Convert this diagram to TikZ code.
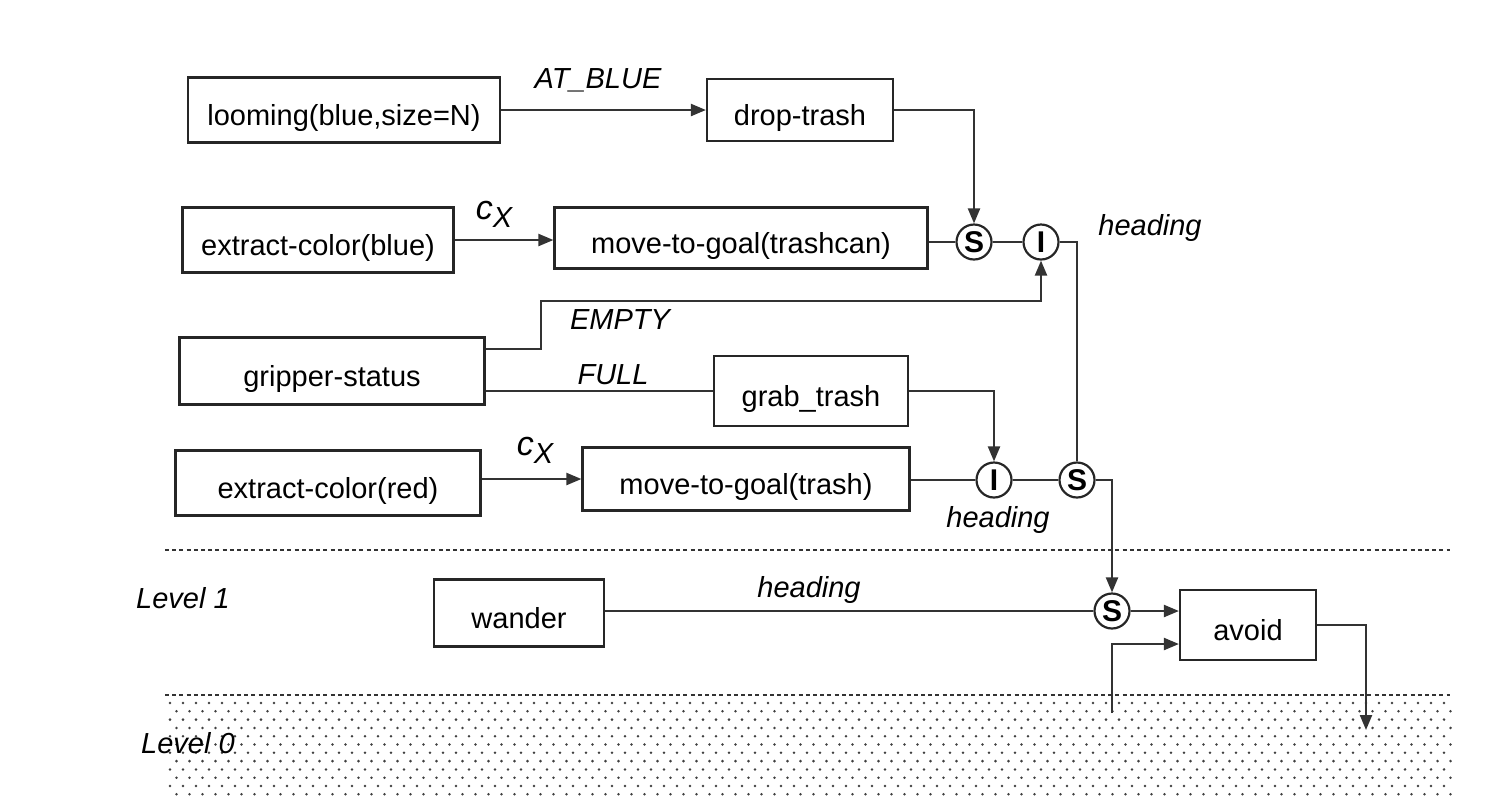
\documentclass[tikz,border=0pt]{standalone}
\usepackage{fontspec}
\setmainfont{Liberation Sans}
\usetikzlibrary{arrows.meta,calc}
\begin{document}
\begin{tikzpicture}[x=0.5pt,y=-0.5pt,
  every node/.style={font=\fontsize{14.5}{17}\selectfont},
  box/.style={draw=black!85,line width=1.1pt,rectangle,inner sep=0pt,text height=15.5pt,text depth=0pt},
  sup/.style={draw=black!85,line width=1.1pt,circle,minimum size=17.5pt,inner sep=0pt,font=\fontsize{15}{17}\selectfont\bfseries},
  wire/.style={draw=black!80,line width=1.1pt},
  arr/.style={wire,-{Triangle[length=7.5pt,width=6pt]}},
  lbl/.style={font=\fontsize{14.5}{17}\selectfont\itshape},
  lvl/.style={draw=black!80,line width=0.9pt,dash pattern=on 2pt off 1.6pt}]
\useasboundingbox (0,0) rectangle (1488,800);
% dotted level 0 area
\foreach \r in {0,...,12}{
  \pgfmathsetmacro{\yy}{703+\r*8.3}
  \pgfmathsetmacro{\off}{mod(\r,2)*6.5}
  \foreach \c in {0,...,98}{
    \fill[black!75] ({170+\off+\c*13},\yy) circle (0.7pt);
  }
}
\draw[lvl] (165,550) -- (1450,550);
\draw[lvl] (165,695) -- (1450,695);
% boxes
\node[box,minimum width=156pt,minimum height=32.5pt] (loom) at (344,110) {looming(blue,size=N)};
\node[box,minimum width=93pt,minimum height=31pt] (drop) at (800,110) {drop-trash};
\node[box,minimum width=135.5pt,minimum height=32.5pt] (ecb) at (318,240) {extract-color(blue)};
\node[box,minimum width=186.5pt,minimum height=30.5pt] (mtgc) at (741,238) {move-to-goal(trashcan)};
\node[box,minimum width=152.5pt,minimum height=33.5pt] (grip) at (332,371) {gripper-status};
\node[box,minimum width=97pt,minimum height=35pt] (grab) at (811,391) {grab\_trash};
\node[box,minimum width=152.5pt,minimum height=32.5pt] (ecr) at (328,483) {extract-color(red)};
\node[box,minimum width=163.5pt,minimum height=31.5pt] (mtgt) at (746,479) {move-to-goal(trash)};
\node[box,minimum width=85pt,minimum height=33.5pt] (wander) at (519,613) {wander};
\node[box,minimum width=68pt,minimum height=35pt] (avoid) at (1248,625) {avoid};
% suppressor / inhibitor nodes
\node[sup] (s1) at (974,242) {S};
\node[sup] (i1) at (1041,242) {I};
\node[sup] (i2) at (994,480) {I};
\node[sup] (s2) at (1077,480) {S};
\node[sup] (s3) at (1112,611) {S};
% bend coordinates
\coordinate (e1) at (541,349);
\coordinate (e2) at (541,301);
\coordinate (a0) at (1112,713);
\coordinate (out) at (1366,730);
% connectors
\draw[arr] (loom.east |- drop.west) -- (drop.west);
\draw[arr] (drop.east) -| (s1.north);
\draw[arr] (ecb.east) -- (ecb.east -| mtgc.west);
\draw[wire] (mtgc.east |- s1.west) -- (s1.west);
\draw[wire] (s1.east) -- (i1.west);
\draw[wire] (i1.east) -| (s2.north);
\draw[arr] (grip.east |- e1) -- (e1) -- (e2) -| (i1.south);
\draw[wire] (grab.west -| grip.east) -- (grab.west);
\draw[arr] (grab.east) -| (i2.north);
\draw[arr] (mtgt.west -| ecr.east) -- (mtgt.west);
\draw[wire] (mtgt.east |- i2.west) -- (i2.west);
\draw[wire] (i2.east) -- (s2.west);
\draw[arr] (s2.east) -| (s3.north);
\draw[wire] (s3.west -| wander.east) -- (s3.west);
\draw[arr] (s3.east) -- (s3.east -| avoid.west);
\draw[arr] (a0) |- ($(avoid.west)+(0,19)$);
\draw[arr] (avoid.east) -| (out);
% labels
\node[lbl] (lab1) at (598,80) {AT\_BLUE};
\node[lbl] (lab2) at (494,214) {{\fontsize{17}{20}\selectfont c}\raisebox{-4pt}{X}};
\node[lbl] (lab3) at (1150,228) {heading};
\node[lbl] (lab4) at (620,320) {EMPTY};
\node[lbl] (lab5) at (613,375) {FULL};
\node[lbl] (lab6) at (535,450) {{\fontsize{17}{20}\selectfont c}\raisebox{-4pt}{X}};
\node[lbl] (lab7) at (998,520) {heading};
\node[lbl] (lab8) at (809,590) {heading};
\node[lbl] (lab9) at (183,598) {Level 1};
\node[lbl] (lab10) at (188,743) {Level 0};
\end{tikzpicture}
\end{document}
